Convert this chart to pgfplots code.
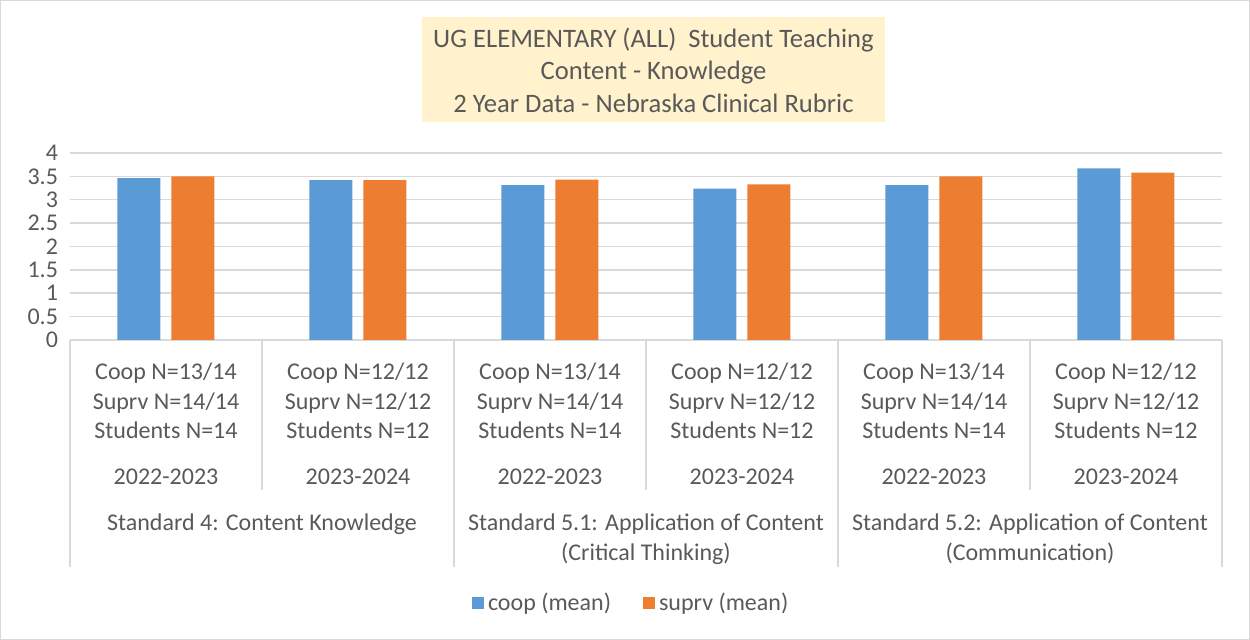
\documentclass[border=0pt]{standalone}
\usepackage{pgfplots}
\pgfplotsset{compat=1.18}
\usepackage{fontspec}
\setmainfont{Carlito}
\definecolor{cblue}{HTML}{5B9BD5}
\definecolor{corange}{HTML}{ED7D31}
\definecolor{cgrid}{HTML}{D9D9D9}
\definecolor{ctext}{HTML}{595959}
\definecolor{ctitle}{HTML}{FFF2CC}
\begin{document}
\begin{tikzpicture}
\path[use as bounding box] (-35pt,-150pt) rectangle (590pt,170pt);
\draw[cgrid, line width=0.6pt] (-34.7pt,-149.7pt) rectangle (589.7pt,169.7pt);
\begin{axis}[
  at={(0pt,0pt)}, anchor=south west,
  scale only axis, width=576pt, height=93.5pt,
  xmin=-0.5, xmax=5.5, ymin=0, ymax=4,
  ybar=5.5pt, bar width=21.5pt,
  axis line style={draw=none},
  major tick length=0pt,
  ytick={0,0.5,...,4},
  ymajorgrids, grid style={cgrid, line width=0.75pt},
  yticklabel style={font=\fontsize{12}{14}\selectfont, text=ctext, xshift=-2.5pt},
  /pgf/number format/assume math mode=true,
  yticklabel={\pgfmathprintnumber[fixed,precision=1]{\tick}},
  xtick=data,
  xticklabels={
    {Coop N=13/14\\Suprv N=14/14\\Students N=14\\[8pt]2022-2023},
    {Coop N=12/12\\Suprv N=12/12\\Students N=12\\[8pt]2023-2024},
    {Coop N=13/14\\Suprv N=14/14\\Students N=14\\[8pt]2022-2023},
    {Coop N=12/12\\Suprv N=12/12\\Students N=12\\[8pt]2023-2024},
    {Coop N=13/14\\Suprv N=14/14\\Students N=14\\[8pt]2022-2023},
    {Coop N=12/12\\Suprv N=12/12\\Students N=12\\[8pt]2023-2024}},
  xticklabel style={font=\fontsize{12}{14.75}\selectfont, text=ctext, align=center, yshift=-8pt},
  clip=false,
  legend columns=2,
  legend style={at={(0.488,-1.406)}, anchor=center, draw=none, fill=none,
    font=\fontsize{12}{14}\selectfont, text=ctext,
    /tikz/every even column/.append style={column sep=14pt}},
  legend image code/.code={\fill[#1] (0pt,-3pt) rectangle (6pt,3pt);},
]
\addplot[fill=cblue, draw=none] coordinates {(0,3.46) (1,3.42) (2,3.31) (3,3.24) (4,3.31) (5,3.67)};
\addplot[fill=corange, draw=none] coordinates {(0,3.50) (1,3.42) (2,3.43) (3,3.33) (4,3.50) (5,3.58)};
\legend{coop (mean), suprv (mean)}
\draw[cgrid, line width=0.75pt] (axis cs:-0.5,0) -- ([yshift=-113.5pt]axis cs:-0.5,0);
\draw[cgrid, line width=0.75pt] (axis cs:1.5,0) -- ([yshift=-113.5pt]axis cs:1.5,0);
\draw[cgrid, line width=0.75pt] (axis cs:3.5,0) -- ([yshift=-113.5pt]axis cs:3.5,0);
\draw[cgrid, line width=0.75pt] (axis cs:5.5,0) -- ([yshift=-113.5pt]axis cs:5.5,0);
\draw[cgrid, line width=0.75pt] (axis cs:0.5,0) -- ([yshift=-75pt]axis cs:0.5,0);
\draw[cgrid, line width=0.75pt] (axis cs:2.5,0) -- ([yshift=-75pt]axis cs:2.5,0);
\draw[cgrid, line width=0.75pt] (axis cs:4.5,0) -- ([yshift=-75pt]axis cs:4.5,0);
\node[font=\fontsize{12}{14.75}\selectfont, text=ctext, align=center, anchor=north] at ([yshift=-83.5pt]axis cs:0.5,0) {Standard 4: Content Knowledge};
\node[font=\fontsize{12}{14.75}\selectfont, text=ctext, align=center, anchor=north] at ([yshift=-83.5pt]axis cs:2.5,0) {Standard 5.1: Application of Content\\(Critical Thinking)};
\node[font=\fontsize{12}{14.75}\selectfont, text=ctext, align=center, anchor=north] at ([yshift=-83.5pt]axis cs:4.5,0) {Standard 5.2: Application of Content\\(Communication)};
\end{axis}
\node[fill=ctitle, text=ctext, align=center, minimum width=231.5pt, minimum height=52.5pt, inner sep=0pt,
  font=\fontsize{13.3}{16.25}\selectfont] at (291.75pt,135pt)
  {UG ELEMENTARY (ALL)\ \ Student Teaching\\Content - Knowledge\\2 Year Data - Nebraska Clinical Rubric};
\end{tikzpicture}
\end{document}
